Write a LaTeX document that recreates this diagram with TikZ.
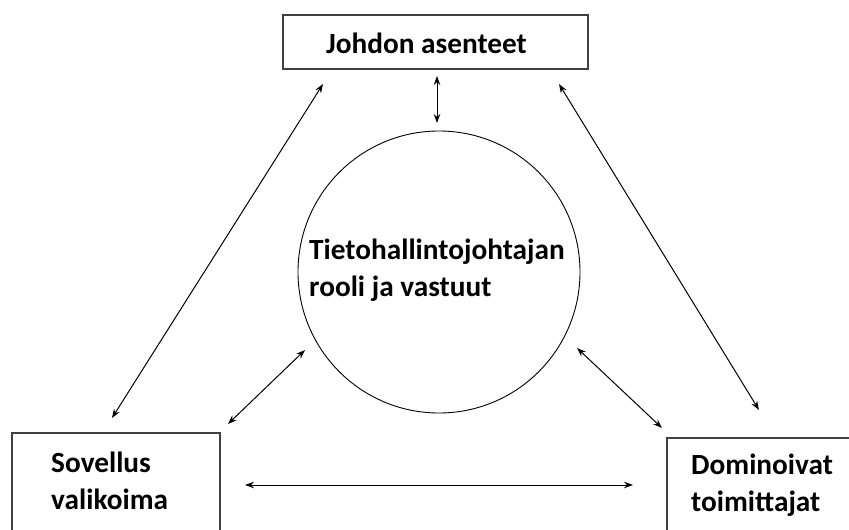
\documentclass[tikz,border=0pt]{standalone}
\usepackage{fontspec}
\setmainfont{Carlito}
\usetikzlibrary{arrows.meta}
\begin{document}
\begin{tikzpicture}[x=1pt,y=-1pt,
  boxstyle/.style={draw=black!75,line width=1.3pt},
  lbl/.style={font=\bfseries\fontsize{29.3}{36.5}\selectfont,align=left,inner sep=0pt},
  conn/.style={line width=1pt,{Stealth[length=9pt,width=6.5pt]}-{Stealth[length=9pt,width=6.5pt]}}]
\useasboundingbox (0,0) rectangle (849,530);
\clip (0,0) rectangle (849,530);
% boxes and circle
\draw[boxstyle] (283,15) rectangle (588,69);
\node[lbl] (top) at (426.5,43) {Johdon asenteet};
\draw[line width=0.9pt] (439,272) circle[radius=141];
\node[lbl,anchor=west] (mid) at (309,270) {Tietohallintojohtajan\\rooli ja vastuut};
\draw[boxstyle] (12,433) rectangle (220,545);
\node[lbl,anchor=west] (sov) at (51,481) {Sovellus\\valikoima};
\draw[boxstyle] (667,438) rectangle (860,545);
\node[lbl,anchor=west] (dom) at (691,485) {Dominoivat\\toimittajat};
% arrow end points
\coordinate (a1) at (437,76);  \coordinate (a2) at (437,123);
\coordinate (b1) at (323,84);  \coordinate (b2) at (112,418);
\coordinate (c1) at (559,84);  \coordinate (c2) at (759,410);
\coordinate (d1) at (305,350); \coordinate (d2) at (228,424);
\coordinate (e1) at (577,348); \coordinate (e2) at (662,428);
\coordinate (f1) at (245,485); \coordinate (f2) at (633,485);
\draw[conn] (a1) -- (a2);
\draw[conn] (b1) -- (b2);
\draw[conn] (c1) -- (c2);
\draw[conn] (d1) -- (d2);
\draw[conn] (e1) -- (e2);
\draw[conn] (f1) -- (f2);
\end{tikzpicture}
\end{document}
